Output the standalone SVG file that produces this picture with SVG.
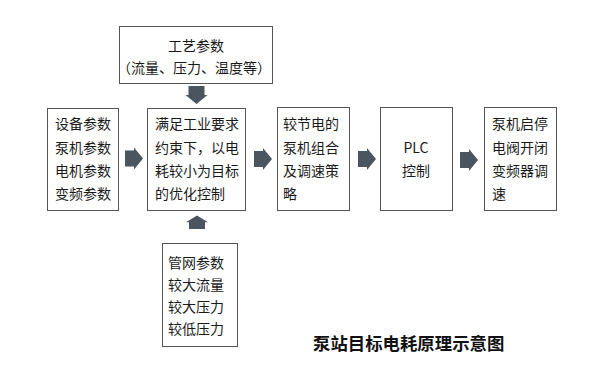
<svg xmlns="http://www.w3.org/2000/svg" width="600" height="377" viewBox="0 0 600 377">
<style>
.box{fill:#fff;stroke:#555;stroke-width:1}
.t{font-family:"Noto Sans CJK SC","Noto Sans",sans-serif;font-size:14px;fill:#1a1a1a}
.c{text-anchor:middle}
.title{font-family:"Noto Sans CJK SC",sans-serif;font-size:17.4px;font-weight:bold;fill:#111}
.arr{fill:#4a5560}
</style>
<defs>
<polygon id="ar" points="0,-8 9,-8 9,-11 18,0 9,11 9,8 0,8"/>
</defs>
<rect width="600" height="377" fill="#fff"/>
<g id="top">
<rect class="box" x="119.5" y="26.5" width="153" height="57"/>
<text class="t c" x="196" y="51">工艺参数</text>
<text class="t c" x="194" y="73">（流量、压力、温度等）</text>
</g>
<g id="params">
<rect class="box" x="47.5" y="108.5" width="71" height="102"/>
<text class="t" x="55" y="129">设备参数</text>
<text class="t" x="55" y="152.5">泵机参数</text>
<text class="t" x="55" y="176">电机参数</text>
<text class="t" x="55" y="199">变频参数</text>
</g>
<g id="optimize">
<rect class="box" x="147.5" y="108.5" width="98" height="102"/>
<text class="t" x="155" y="129">满足工业要求</text>
<text class="t" x="155" y="152.5">约束下，以电</text>
<text class="t" x="155" y="176">耗较小为目标</text>
<text class="t" x="155" y="199">的优化控制</text>
</g>
<g id="strategy">
<rect class="box" x="277.5" y="107.5" width="72" height="103"/>
<text class="t" x="283" y="129">较节电的</text>
<text class="t" x="283" y="152.5">泵机组合</text>
<text class="t" x="283" y="176">及调速策</text>
<text class="t" x="283" y="199">略</text>
</g>
<g id="plc">
<rect class="box" x="380.5" y="107.5" width="72" height="103"/>
<text class="t c" x="416" y="153">PLC</text>
<text class="t c" x="416" y="176">控制</text>
</g>
<g id="action">
<rect class="box" x="484.5" y="107.5" width="72" height="103"/>
<text class="t" x="492" y="129">泵机启停</text>
<text class="t" x="492" y="152.5">电阀开闭</text>
<text class="t" x="492" y="176">变频器调</text>
<text class="t" x="492" y="199">速</text>
</g>
<g id="network">
<rect class="box" x="162.5" y="243.5" width="75" height="103"/>
<text class="t" x="168" y="267.5">管网参数</text>
<text class="t" x="168" y="289.5">较大流量</text>
<text class="t" x="168" y="311.5">较大压力</text>
<text class="t" x="168" y="334">较低压力</text>
</g>
<g id="connectors">
<use href="#ar" class="arr" transform="translate(125,158.5)"/>
<use href="#ar" class="arr" transform="translate(254,159)"/>
<use href="#ar" class="arr" transform="translate(358,159)"/>
<use href="#ar" class="arr" transform="translate(460,160)"/>
<use href="#ar" class="arr" transform="translate(196.5,86) rotate(90)"/>
<use href="#ar" class="arr" transform="translate(197,229) rotate(-90) scale(0.75,1)"/>
</g>
<text class="title" x="313" y="350">泵站目标电耗原理示意图</text>
</svg>
